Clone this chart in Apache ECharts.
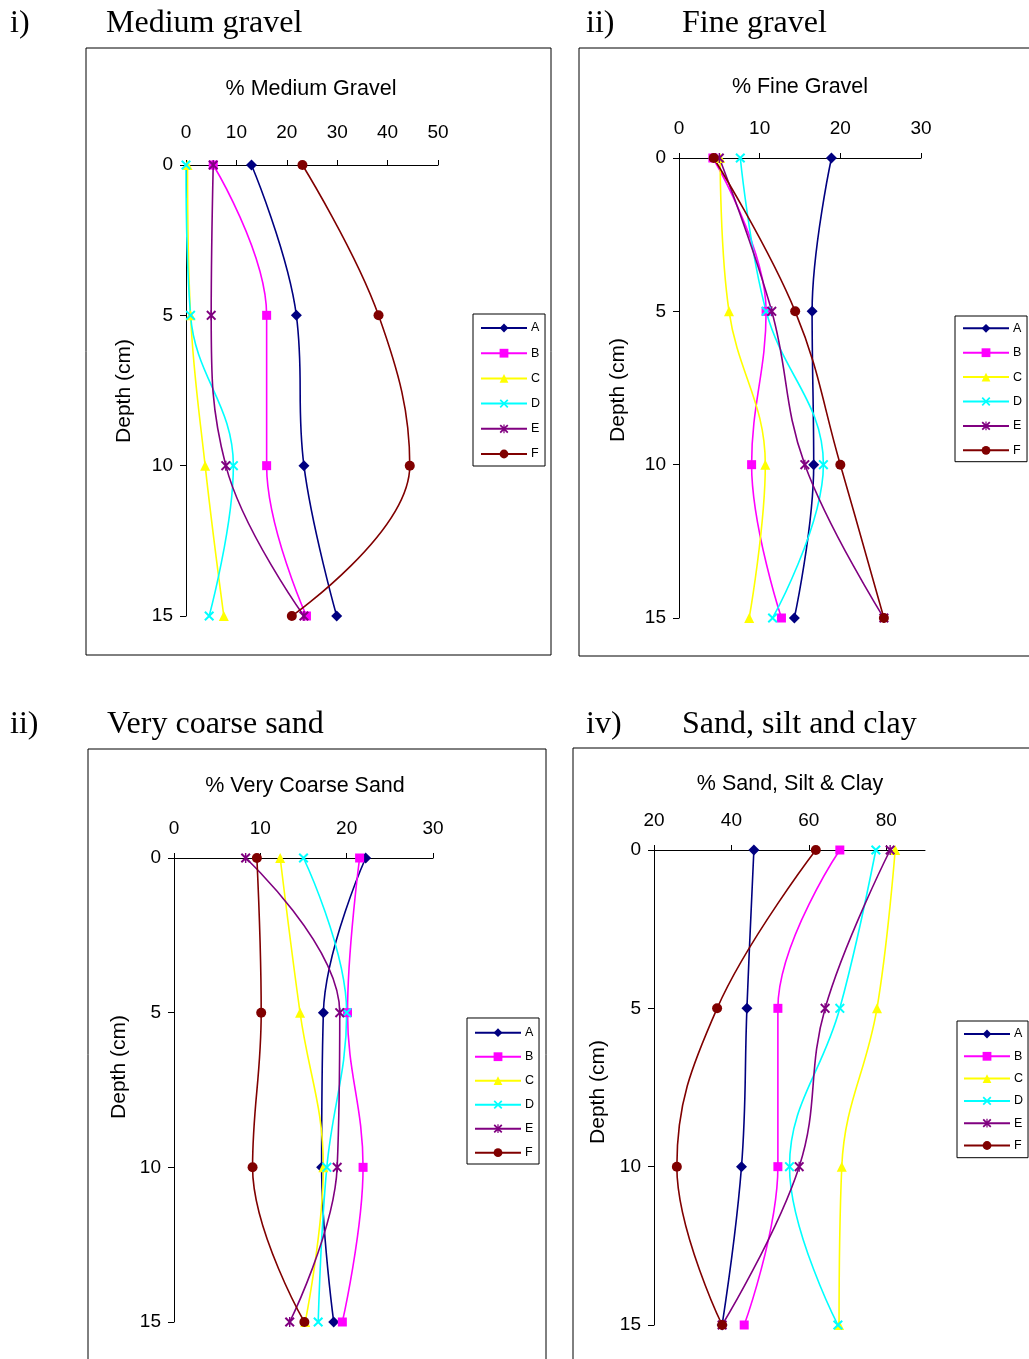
<!DOCTYPE html>
<html>
<head>
<meta charset="utf-8">
<script src="https://cdn.jsdelivr.net/npm/echarts@6/dist/echarts.min.js"></script>
<style>
html,body{margin:0;padding:0;background:#fff;}
#chart{width:1029px;height:1359px;}
</style>
</head>
<body>
<div id="chart"></div>
<script>
// ---- data ----
const depths = [0, 5, 10, 15];
const seriesNames = ['A', 'B', 'C', 'D', 'E', 'F'];

const mediumGravel = {
  A: [13.0, 21.9, 23.4, 29.9],
  B: [5.4, 16.0, 16.0, 23.9],
  C: [0.3, 0.9, 3.8, 7.5],
  D: [0.0, 0.9, 9.4, 4.6],
  E: [5.4, 5.0, 7.9, 23.4],
  F: [23.1, 38.2, 44.4, 21.0]
};
const fineGravel = {
  A: [18.9, 16.5, 16.7, 14.3],
  B: [4.2, 10.8, 9.0, 12.7],
  C: [5.1, 6.2, 10.7, 8.7],
  D: [7.6, 10.8, 17.9, 11.6],
  E: [5.0, 11.5, 15.6, 25.4],
  F: [4.3, 14.4, 20.0, 25.4]
};
const veryCoarseSand = {
  A: [22.2, 17.3, 17.1, 18.5],
  B: [21.5, 20.1, 21.9, 19.5],
  C: [12.3, 14.6, 17.3, 15.2],
  D: [15.0, 20.0, 17.7, 16.7],
  E: [8.3, 19.2, 18.9, 13.4],
  F: [9.6, 10.1, 9.1, 15.1]
};
const sandSiltClay = {
  A: [45.8, 44.0, 42.6, 37.6],
  B: [68.0, 52.0, 52.0, 43.3],
  C: [82.3, 77.6, 68.5, 67.8],
  D: [77.3, 68.0, 55.0, 67.5],
  E: [81.0, 64.2, 57.5, 37.6],
  F: [61.8, 36.3, 25.9, 37.6]
};

const panelTitles = ['% Medium Gravel', '% Fine Gravel', '% Very Coarse Sand', '% Sand, Silt & Clay'];
const headingLabels = ['i)', 'ii)', 'ii)', 'iv)'];
const headingTexts = ['Medium gravel', 'Fine gravel', 'Very coarse sand', 'Sand, silt and clay'];
const xTicks = [[0, 10, 20, 30, 40, 50], [0, 10, 20, 30], [0, 10, 20, 30], [20, 40, 60, 80]];
const yTicks = [0, 5, 10, 15];
const yLabel = 'Depth (cm)';

// ---- styling / layout ----
const datasets = [mediumGravel, fineGravel, veryCoarseSand, sandSiltClay];
const xRanges = [{min: 0, max: 50, interval: 10}, {min: 0, max: 30, interval: 10}, {min: 0, max: 30, interval: 10}, {min: 20, max: 90, interval: 20}];
const grids = [
  {left: 186, top: 165, width: 252, height: 451},
  {left: 679, top: 158, width: 242, height: 460},
  {left: 174, top: 858, width: 259, height: 464},
  {left: 654, top: 850, width: 271, height: 475}
];
const xLabelMargin = [23, 20, 20, 20];
const boxes = [
  {x: 86, y: 48, width: 465, height: 607},
  {x: 579, y: 48, width: 520, height: 608},
  {x: 88, y: 749, width: 458, height: 700},
  {x: 573, y: 748, width: 520, height: 700}
];
const legendPos = [
  {left: 473, top: 314, itemGap: 12.2, padding: [7.5, 5, 5.5, 7]},
  {left: 955, top: 316, itemGap: 11.4, padding: [5.8, 5, 4.9, 7]},
  {left: 467, top: 1018, itemGap: 11, padding: [8.2, 5, 4.8, 7]},
  {left: 957, top: 1021, itemGap: 9.3, padding: [6.5, 5, 5.7, 6]}
];
const titlePos = [[311, 89], [800, 87], [305, 786], [790, 784]];
const depthPos = [[124, 391], [618, 390], [119, 1067], [598, 1092]];
const headingPos = [[10, 106, 24], [586, 682, 24], [10, 107, 725], [586, 682, 725]];

const colors = {A: '#000080', B: '#FF00FF', C: '#FFFF00', D: '#00FFFF', E: '#800080', F: '#800000'};
const xPath = 'path://M0,1.4 L1.4,0 L5,3.6 L8.6,0 L10,1.4 L6.4,5 L10,8.6 L8.6,10 L5,6.4 L1.4,10 L0,8.6 L3.6,5 Z';
const starPath = 'path://M0,1.4 L1.4,0 L5,3.6 L8.6,0 L10,1.4 L6.4,5 L10,8.6 L8.6,10 L5,6.4 L1.4,10 L0,8.6 L3.6,5 Z M4.3,0 L5.7,0 L5.7,10 L4.3,10 Z';
const symbols = {A: 'diamond', B: 'rect', C: 'triangle', D: xPath, E: starPath, F: 'circle'};
const symbolSizes = {A: 11, B: 9, C: 10, D: 10, E: 10, F: 10};

const SANS = '"Liberation Sans", Arial, sans-serif';
const SERIF = '"Liberation Serif", "Times New Roman", serif';

const chart = echarts.init(document.getElementById('chart'), null, {renderer: 'canvas'});

const series = [];
datasets.forEach((ds, p) => {
  seriesNames.forEach(n => {
    series.push({
      type: 'line',
      name: n,
      xAxisIndex: p,
      yAxisIndex: p,
      data: ds[n].map((v, i) => [v, depths[i]]),
      smooth: 0.4,
      symbol: symbols[n],
      symbolSize: symbolSizes[n],
      showSymbol: true,
      lineStyle: {color: colors[n], width: 1.6},
      itemStyle: {color: colors[n]},
      emphasis: {disabled: true},
      z: 3
    });
  });
});

const graphics = [];
boxes.forEach(b => graphics.push({type: 'rect', shape: b, style: {fill: 'none', stroke: '#000', lineWidth: 1}, z: 0, silent: true}));
headingPos.forEach((h, p) => {
  graphics.push({type: 'text', x: h[0], y: h[2], style: {text: headingLabels[p], font: '32px ' + SERIF, fill: '#000', align: 'left', verticalAlign: 'middle'}});
  graphics.push({type: 'text', x: h[1], y: h[2], style: {text: headingTexts[p], font: '32px ' + SERIF, fill: '#000', align: 'left', verticalAlign: 'middle'}});
});
titlePos.forEach((t, p) => {
  graphics.push({type: 'text', x: t[0], y: t[1], style: {text: panelTitles[p], font: '21.5px ' + SANS, fill: '#000', align: 'center', verticalAlign: 'middle'}});
});
depthPos.forEach(d => {
  graphics.push({type: 'text', x: d[0], y: d[1], rotation: Math.PI / 2, style: {text: yLabel, font: '21px ' + SANS, fill: '#000', align: 'center', verticalAlign: 'middle'}});
});

const option = {
  animation: false,
  backgroundColor: '#fff',
  grid: grids.map(g => Object.assign({containLabel: false}, g)),
  xAxis: xRanges.map((r, p) => ({
    type: 'value',
    gridIndex: p,
    position: 'top',
    min: r.min, max: r.max, interval: r.interval,
    splitLine: {show: false},
    axisLine: {show: true, onZero: false, lineStyle: {color: '#000', width: 1}},
    axisTick: {show: true, length: 5, lineStyle: {color: '#000'}},
    axisLabel: {
      show: true, margin: xLabelMargin[p], color: '#000', fontSize: 19, fontFamily: SANS,
      showMaxLabel: xTicks[p].indexOf(r.max) >= 0,
      formatter: v => (xTicks[p].indexOf(v) >= 0 ? String(v) : '')
    }
  })),
  yAxis: grids.map((g, p) => ({
    type: 'value',
    gridIndex: p,
    inverse: true,
    min: yTicks[0], max: yTicks[yTicks.length - 1], interval: 5,
    splitLine: {show: false},
    axisLine: {show: true, onZero: false, lineStyle: {color: '#000', width: 1}},
    axisTick: {show: true, length: 6, lineStyle: {color: '#000'}},
    axisLabel: {show: true, margin: 13, color: '#000', fontSize: 19, fontFamily: SANS}
  })),
  legend: legendPos.map(l => ({
    data: seriesNames,
    orient: 'vertical',
    left: l.left,
    top: l.top,
    itemWidth: 46,
    itemHeight: 11,
    itemGap: l.itemGap,
    padding: l.padding,
    borderColor: '#000',
    borderWidth: 1,
    selectedMode: false,
    textStyle: {fontSize: 12.5, fontFamily: SANS, color: '#000', padding: [0, 0, 0, -1]}
  })),
  graphic: graphics,
  series: series
};
chart.setOption(option);
</script>
</body>
</html>
